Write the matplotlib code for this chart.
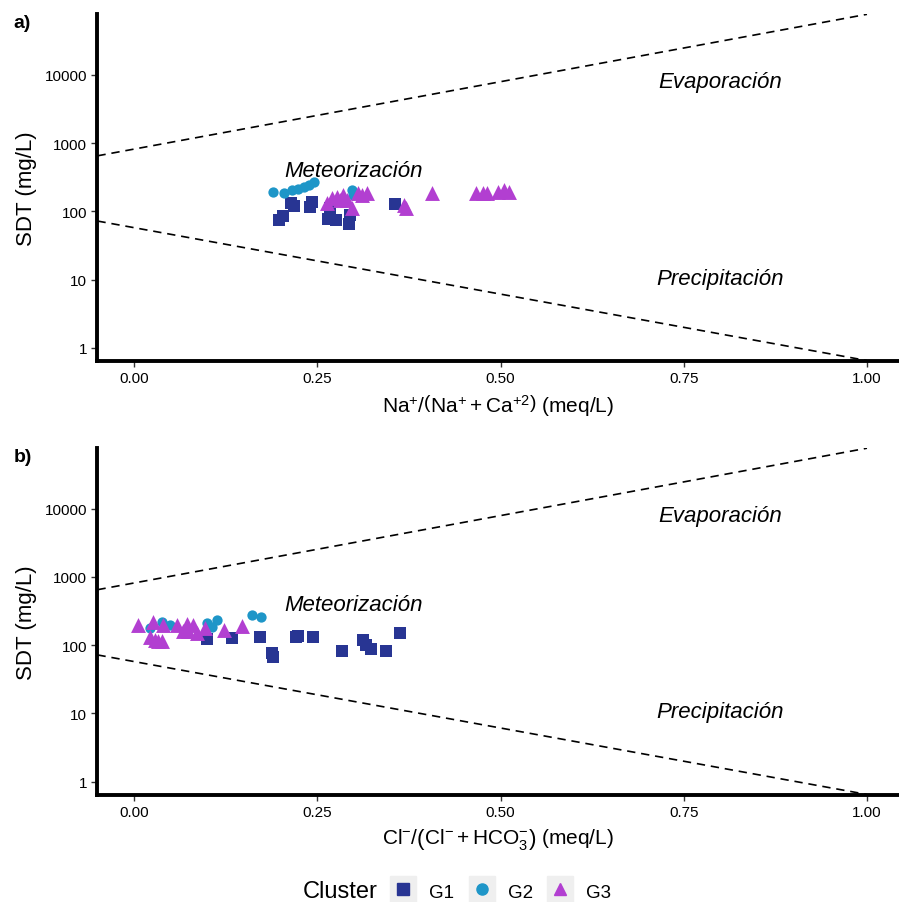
import matplotlib
matplotlib.use('Agg')
import matplotlib.pyplot as plt
from matplotlib.lines import Line2D
from matplotlib.legend_handler import HandlerTuple

plt.rcParams['font.family'] = ['Liberation Sans', 'DejaVu Sans']
plt.rcParams['mathtext.fontset'] = 'custom'
plt.rcParams['mathtext.rm'] = 'Liberation Sans'
plt.rcParams['mathtext.it'] = 'Liberation Sans:italic'
plt.rcParams['mathtext.bf'] = 'Liberation Sans:bold'

# --- data: panel a (Na/(Na+Ca) vs TDS) ---
a_g1_x = [0.198, 0.203, 0.214, 0.218, 0.240, 0.243, 0.265, 0.276, 0.293, 0.295, 0.267, 0.356]
a_g1_y = [75, 86, 133, 120, 116, 138, 78, 75, 65, 89, 112, 129]
a_g2_x = [0.189, 0.204, 0.215, 0.224, 0.232, 0.239, 0.246, 0.298, 0.299]
a_g2_y = [195, 185, 203, 214, 230, 245, 269, 208, 175]
a_g3_x = [0.263, 0.270, 0.277, 0.281, 0.285, 0.291, 0.297, 0.306, 0.311, 0.318,
          0.368, 0.371, 0.407, 0.467, 0.476, 0.482, 0.497, 0.505, 0.512]
a_g3_y = [133, 158, 163, 148, 175, 148, 112, 187, 175, 187,
          125, 112, 187, 187, 187, 187, 195, 208, 195]

# --- data: panel b (Cl/(Cl+HCO3) vs TDS) ---
b_g1_x = [0.100, 0.134, 0.172, 0.188, 0.190, 0.221, 0.224, 0.244, 0.284, 0.312, 0.317, 0.323, 0.344, 0.363]
b_g1_y = [123, 128, 134, 78, 67, 134, 138, 134, 81, 121, 102, 88, 83, 153]
b_g2_x = [0.022, 0.038, 0.049, 0.099, 0.106, 0.113, 0.161, 0.173]
b_g2_y = [178, 221, 200, 212, 183, 233, 276, 256]
b_g3_x = [0.006, 0.026, 0.040, 0.058, 0.072, 0.081, 0.097, 0.122, 0.147,
          0.022, 0.029, 0.033, 0.038, 0.067, 0.074, 0.086]
b_g3_y = [200, 216, 200, 200, 207, 200, 179, 169, 190,
          134, 120, 114, 114, 159, 159, 151]

# Gibbs boundary lines (end points)
line_x = [-0.05, 1.0]
evap_y = [650, 77000]
prec_y = [72, 0.65]

colors = {'G1': '#283593', 'G2': '#1E96C8', 'G3': '#B23FD1'}
markers = {'G1': 's', 'G2': 'o', 'G3': '^'}
sizes = {'G1': 63, 'G2': 55, 'G3': 115}

yticks = [1, 10, 100, 1000, 10000]

fig = plt.figure(figsize=(8.99, 9.03), dpi=100)


def draw_panel(ax, groups, xlabel, tag):
    ax.plot(line_x, evap_y, color='black', lw=1.2, ls=(0, (5, 3.5)))
    ax.plot(line_x, prec_y, color='black', lw=1.2, ls=(0, (5, 3.5)))
    for name, (xs, ys) in groups.items():
        ax.scatter(xs, ys, marker=markers[name], s=sizes[name], color=colors[name],
                   linewidths=0, zorder=3)
    ax.text(0.30, 400, 'Meteorización', style='italic', fontsize=16, ha='center', va='center')
    ax.text(0.80, 8000, 'Evaporación', style='italic', fontsize=16, ha='center', va='center')
    ax.text(0.80, 10.5, 'Precipitación', style='italic', fontsize=16, ha='center', va='center')

    ax.set_yscale('log')
    ax.set_xlim(-0.0505, 1.0437)
    ax.set_ylim(0.638, 76900)
    ax.set_yticks(yticks)
    ax.set_yticklabels([str(t) for t in yticks])
    ax.minorticks_off()
    ax.set_xticks([0, 0.25, 0.5, 0.75, 1.0])
    ax.set_xticklabels(['0.00', '0.25', '0.50', '0.75', '1.00'])
    ax.tick_params(direction='out', length=4, width=1, color='#333333',
                   labelsize=11, labelcolor='black', pad=3)
    for s in ['top', 'right']:
        ax.spines[s].set_visible(False)
    for s in ['left', 'bottom']:
        ax.spines[s].set_linewidth(2.8)
    ax.set_ylabel('SDT (mg/L)', fontsize=16, labelpad=6)
    ax.set_xlabel(xlabel, fontsize=15, labelpad=5)
    ax.text(-0.104, 1.0, tag, transform=ax.transAxes, fontsize=14, fontweight='bold',
            ha='left', va='top')


ax_a = fig.add_axes([0.108, 0.599, 0.892, 0.384])
draw_panel(ax_a, {'G1': (a_g1_x, a_g1_y), 'G2': (a_g2_x, a_g2_y), 'G3': (a_g3_x, a_g3_y)},
           r'$\mathrm{Na^{+}/\left(Na^{+}+Ca^{+2}\right)}$ (meq/L)', 'a)')

ax_b = fig.add_axes([0.108, 0.1185, 0.892, 0.384])
draw_panel(ax_b, {'G1': (b_g1_x, b_g1_y), 'G2': (b_g2_x, b_g2_y), 'G3': (b_g3_x, b_g3_y)},
           r'$\mathrm{Cl^{-}/\left(Cl^{-}+HCO_3^{-}\right)}$ (meq/L)', 'b)')

# legend with grey key boxes
handles = []
for name in ['G1', 'G2', 'G3']:
    bg = Line2D([], [], marker='s', markersize=18.7, color='#EFEFEF', linestyle='None')
    mk = Line2D([], [], marker=markers[name], markersize=8 if name != 'G3' else 9,
                color=colors[name], linestyle='None')
    handles.append((bg, mk))

fig.text(378 / 899, 1 - 892 / 903, 'Cluster', fontsize=17, ha='right', va='center')
fig.legend(handles, ['G1', 'G2', 'G3'], loc='center left',
           bbox_to_anchor=(390 / 899, 1 - 892 / 903), ncol=3, frameon=False,
           fontsize=13.5, handlelength=1.4, handleheight=1.4, handletextpad=0.7,
           columnspacing=0.75, borderpad=0, borderaxespad=0,
           handler_map={tuple: HandlerTuple(ndivide=1)})

fig.savefig('out.png', dpi=100)
